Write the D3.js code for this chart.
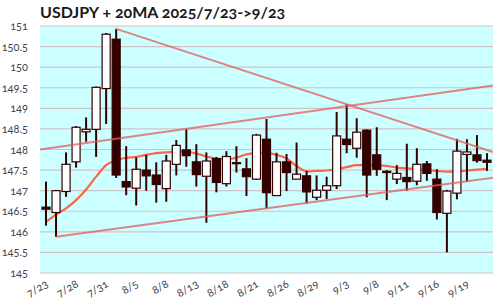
<!DOCTYPE html>
<html>
<head>
<meta charset="utf-8">
<script src="https://cdn.jsdelivr.net/npm/d3@7"></script>
<style>
    body { margin: 0; background: #fff; }
    svg text { font-family: Lato, "Open Sans", sans-serif; font-variant-numeric: oldstyle-nums; }
</style>
</head>
<body>
<svg id="svg" width="500" height="300"></svg>
<script>
// data
let dates = ['7/23', '7/24', '7/25', '7/28', '7/29', '7/30', '7/31', '8/1', '8/4', '8/5',
    '8/6', '8/7', '8/8', '8/11', '8/12', '8/13', '8/14', '8/15', '8/18', '8/19',
    '8/20', '8/21', '8/22', '8/25', '8/26', '8/27', '8/28', '8/29', '9/1', '9/2',
    '9/3', '9/4', '9/5', '9/8', '9/9', '9/10', '9/11', '9/12', '9/15', '9/16',
    '9/17', '9/18', '9/19', '9/22', '9/23'];
let opens = [146.60, 146.47, 146.98, 147.70, 148.43, 148.49, 149.48, 150.68, 147.22, 147.06,
    147.50, 147.38, 147.05, 147.64, 147.99, 147.70, 147.35, 147.78, 147.17, 147.68,
    147.53, 147.28, 148.25, 146.88, 147.70, 147.28, 147.36, 146.84, 147.01, 147.12,
    148.25, 148.03, 148.47, 147.87, 147.47, 147.28, 147.32, 147.23, 147.65, 147.28,
    146.45, 146.94, 147.88, 147.87, 147.74];
let highs = [147.22, 147.02, 147.93, 148.57, 148.78, 149.53, 150.83, 150.93, 148.08, 147.81,
    147.87, 147.69, 147.87, 148.23, 148.50, 148.13, 147.93, 147.82, 147.96, 148.08,
    147.79, 148.38, 148.74, 147.92, 147.89, 148.17, 147.48, 147.37, 147.34, 148.91,
    149.10, 148.76, 148.49, 148.54, 147.50, 147.62, 148.14, 148.03, 147.72, 147.52,
    147.02, 148.26, 148.25, 148.35, 147.91];
let lows = [146.15, 145.88, 146.85, 147.56, 148.19, 147.82, 148.62, 147.31, 146.89, 146.64,
    147.00, 146.71, 146.73, 147.37, 147.58, 147.10, 146.22, 146.96, 147.10, 147.44,
    146.87, 147.26, 146.57, 146.87, 146.99, 147.28, 146.69, 146.77, 146.80, 147.04,
    147.91, 147.80, 146.84, 147.36, 146.77, 147.16, 147.00, 147.13, 147.24, 146.30,
    145.50, 146.79, 147.22, 147.68, 147.48];
let closes = [146.55, 147.00, 147.64, 148.54, 148.49, 149.51, 150.80, 147.38, 147.09, 147.52,
    147.36, 147.15, 147.72, 148.10, 147.85, 147.39, 147.72, 147.20, 147.83, 147.66,
    147.34, 148.35, 146.95, 147.70, 147.44, 147.40, 146.97, 147.01, 147.12, 148.33,
    148.12, 148.42, 147.38, 147.52, 147.44, 147.42, 147.22, 147.64, 147.42, 146.47,
    146.99, 147.96, 147.94, 147.73, 147.69];
let ma20 = [146.24, 146.42, 146.57, 146.77, 147.03, 147.34, 147.62, 147.74, 147.80, 147.82,
    147.87, 147.91, 147.93, 147.95, 147.95, 147.90, 147.83, 147.78, 147.76, 147.80,
    147.88, 147.92, 147.92, 147.87, 147.78, 147.60, 147.47, 147.48, 147.49, 147.52,
    147.57, 147.62, 147.62, 147.62, 147.60, 147.56, 147.54, 147.52, 147.50, 147.48,
    147.46, 147.47, 147.49, 147.51, 147.53];
let yTicks = [145, 145.5, 146, 146.5, 147, 147.5, 148, 148.5, 149, 149.5, 150, 150.5, 151];
let xTickDates = ['7/23', '7/28', '7/31', '8/5', '8/8', '8/13', '8/18', '8/21', '8/26', '8/29',
    '9/3', '9/8', '9/11', '9/16', '9/19'];
// trend lines: two anchor candles (date, price), and which ends run to the plot edge
let trendFrom = [['8/1', 150.93], ['8/12', 148.50], ['7/24', 145.88]];
let trendTo = [['9/3', 149.10], ['9/3', 149.05], ['8/22', 146.57]];
let trendExtendLeft = [false, true, false];

let svg = d3.select('#svg');
let plotL = 40, plotR = 493, plotT = 26, plotB = 273;

let x = d3.scaleBand().domain(dates).range([plotL, plotR]).padding(0.2);
let y = d3.scaleLinear().domain([145, 151]).range([plotB, plotT]);
let cx = d => x(d) + x.bandwidth() / 2;
let idx = d3.scaleLinear().domain([0, dates.length - 1]).range([cx(dates[0]), cx(dates[dates.length - 1])]);

// title
svg.append('text')
    .attr('x', 40)
    .attr('y', 18)
    .attr('font-size', 16)
    .attr('font-weight', 'bold')
    .attr('fill', '#1a1a1a')
    .text('USDJPY + 20MA 2025/7/23->9/23');

// plot background
svg.append('rect')
    .attr('x', plotL).attr('y', plotT)
    .attr('width', plotR - plotL).attr('height', plotB - plotT)
    .attr('fill', '#ccffff');

// grid + y labels
svg.append('g').selectAll('line').data(yTicks).join('line')
    .attr('x1', plotL).attr('x2', plotR)
    .attr('y1', d => y(d)).attr('y2', d => y(d))
    .attr('stroke', '#cfc3c8').attr('stroke-width', 1.2);
svg.append('g').selectAll('text').data(yTicks).join('text')
    .attr('x', 28).attr('y', d => y(d) + 4)
    .attr('text-anchor', 'end')
    .attr('font-size', 11)
    .attr('fill', '#3c4350')
    .text(d => d);

// x labels
svg.append('g').selectAll('text').data(xTickDates).join('text')
    .attr('transform', d => `translate(${cx(d) + 3},286) rotate(-30)`)
    .attr('text-anchor', 'end')
    .attr('font-size', 11)
    .attr('fill', '#3c4350')
    .text(d => d);

let plot = svg.append('g');

// 20MA
let maLine = d3.line().x((d, i) => cx(dates[i])).y(d => y(d)).curve(d3.curveMonotoneX);
plot.append('path')
    .attr('d', maLine(ma20))
    .attr('fill', 'none')
    .attr('stroke', '#ff6347')
    .attr('stroke-width', 2.2);

// candles
let candles = plot.append('g').selectAll('g').data(dates).join('g');
candles.append('line')
    .attr('x1', d => cx(d)).attr('x2', d => cx(d))
    .attr('y1', (d, i) => y(highs[i])).attr('y2', (d, i) => y(lows[i]))
    .attr('stroke', '#330000').attr('stroke-width', 2);
candles.append('rect')
    .attr('x', d => x(d))
    .attr('width', x.bandwidth())
    .attr('y', (d, i) => y(Math.max(opens[i], closes[i])))
    .attr('height', (d, i) => Math.max(1, Math.abs(y(opens[i]) - y(closes[i]))))
    .attr('fill', (d, i) => closes[i] > opens[i] ? '#ffffff' : '#330000')
    .attr('stroke', '#330000').attr('stroke-width', 1.2);

// trend lines, clipped to the plot
svg.append('clipPath').attr('id', 'clip')
    .append('rect').attr('x', plotL).attr('y', plotT).attr('width', plotR - plotL).attr('height', plotB - plotT);
let trends = svg.append('g').attr('clip-path', 'url(#clip)');
trendFrom.forEach((a, k) => {
    let b = trendTo[k];
    let i0 = dates.indexOf(a[0]), i1 = dates.indexOf(b[0]);
    let slope = (b[1] - a[1]) / (i1 - i0);
    let xs = idx.invert(plotL), xe = idx.invert(plotR);
    let s = trendExtendLeft[k] ? xs : i0;
    trends.append('line')
        .attr('x1', idx(s)).attr('y1', y(a[1] + slope * (s - i0)))
        .attr('x2', idx(xe)).attr('y2', y(a[1] + slope * (xe - i0)))
        .attr('stroke', '#e35b5b')
        .attr('stroke-opacity', 0.75)
        .attr('stroke-width', 2);
});
</script>
</body>
</html>
